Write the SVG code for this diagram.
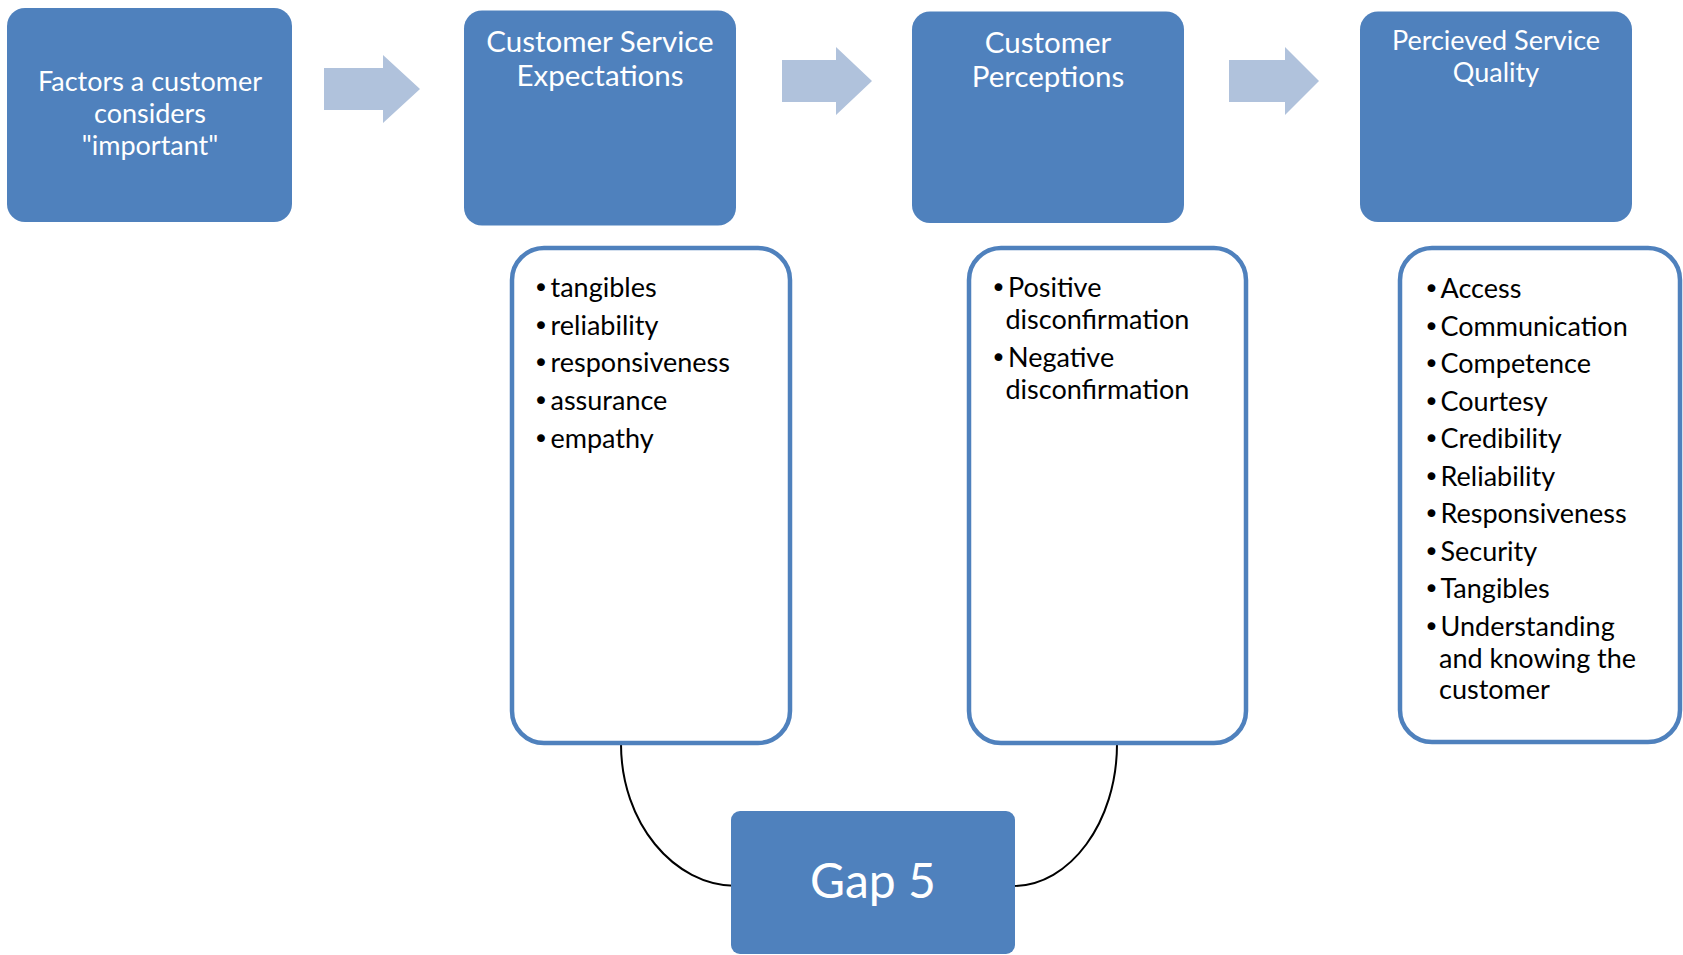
<svg xmlns="http://www.w3.org/2000/svg" width="1683" height="955" viewBox="0 0 1683 955">
  <style>
    .stage { fill: #4F81BD; }
    .flow { fill: #B0C2DC; }
    .list { fill: #FFFFFF; stroke: #4F81BD; stroke-width: 4.5; }
    .link { fill: none; stroke: #000000; stroke-width: 2; }
    .head { font-family: Lato, "Open Sans", "Liberation Sans", sans-serif; fill: #FFFFFF; text-anchor: middle; }
    .item { font-family: Lato, "Open Sans", "Liberation Sans", sans-serif; fill: #000000; font-size: 27px; }
    .dot { font-family: "DejaVu Sans", sans-serif; font-size: 27px; }
  </style>
  <rect width="1683" height="955" fill="#FFFFFF"/>

  <!-- flow arrows between stages -->
  <g id="flow-arrows">
    <polygon class="flow" points="324,68 383,68 383,55 420,89 383,123 383,110 324,110"/>
    <polygon class="flow" points="782,60 836,60 836,47 872,81 836,115 836,102 782,102"/>
    <polygon class="flow" points="1229,60 1285,60 1285,47 1319,81 1285,115 1285,102 1229,102"/>
  </g>

  <!-- connectors from the two lists into Gap 5 -->
  <g id="connectors">
    <path class="link" d="M621,744 C621,822 673,886 737,886"/>
    <path class="link" d="M1117,744 C1117,822 1070,886 1013,886"/>
  </g>

  <g id="factors">
    <rect class="stage" x="7" y="8" width="285" height="214" rx="18"/>
    <text class="head" font-size="27" x="150" y="91">Factors a customer</text>
    <text class="head" font-size="27" x="150" y="123">considers</text>
    <text class="head" font-size="27" x="150" y="155">"important"</text>
  </g>

  <g id="expectations">
    <rect class="stage" x="464" y="10.5" width="272" height="215" rx="18"/>
    <text class="head" font-size="29.5" x="600" y="52">Customer Service</text>
    <text class="head" font-size="29.5" x="600" y="86">Expectations</text>
  </g>

  <g id="perceptions">
    <rect class="stage" x="912" y="11.5" width="272" height="211.5" rx="18"/>
    <text class="head" font-size="29.5" x="1048" y="53">Customer</text>
    <text class="head" font-size="29.5" x="1048" y="87">Perceptions</text>
  </g>

  <g id="quality">
    <rect class="stage" x="1360" y="11.5" width="272" height="210.5" rx="18"/>
    <text class="head" font-size="27" x="1496" y="50">Percieved Service</text>
    <text class="head" font-size="27" x="1496" y="82">Quality</text>
  </g>

  <!-- list items: bullet glyph, label on a hanging indent -->
  <g id="expectation-dimensions">
    <rect class="list" x="512" y="248" width="278" height="495" rx="32"/>
    <text class="item" x="533" y="297"><tspan class="dot">•</tspan><tspan x="550.5">tangibles</tspan></text>
    <text class="item" x="533" y="334.5"><tspan class="dot">•</tspan><tspan x="550.5">reliability</tspan></text>
    <text class="item" x="533" y="372"><tspan class="dot">•</tspan><tspan x="550.5">responsiveness</tspan></text>
    <text class="item" x="533" y="410"><tspan class="dot">•</tspan><tspan x="550.5">assurance</tspan></text>
    <text class="item" x="533" y="447.5"><tspan class="dot">•</tspan><tspan x="550.5">empathy</tspan></text>
  </g>

  <g id="disconfirmation">
    <rect class="list" x="969" y="248" width="277" height="495" rx="32"/>
    <text class="item" x="990.5" y="297"><tspan class="dot">•</tspan><tspan x="1008">Positive</tspan></text>
    <text class="item" x="1005.5" y="329">disconfirmation</text>
    <text class="item" x="990.5" y="367"><tspan class="dot">•</tspan><tspan x="1008">Negative</tspan></text>
    <text class="item" x="1005.5" y="399">disconfirmation</text>
  </g>

  <g id="quality-dimensions">
    <rect class="list" x="1400" y="248" width="280" height="494" rx="32"/>
    <text class="item" x="1423.5" y="298"><tspan class="dot">•</tspan><tspan x="1440.5">Access</tspan></text>
    <text class="item" x="1423.5" y="335.5"><tspan class="dot">•</tspan><tspan x="1440.5">Communication</tspan></text>
    <text class="item" x="1423.5" y="373"><tspan class="dot">•</tspan><tspan x="1440.5">Competence</tspan></text>
    <text class="item" x="1423.5" y="410.5"><tspan class="dot">•</tspan><tspan x="1440.5">Courtesy</tspan></text>
    <text class="item" x="1423.5" y="448"><tspan class="dot">•</tspan><tspan x="1440.5">Credibility</tspan></text>
    <text class="item" x="1423.5" y="485.5"><tspan class="dot">•</tspan><tspan x="1440.5">Reliability</tspan></text>
    <text class="item" x="1423.5" y="523"><tspan class="dot">•</tspan><tspan x="1440.5">Responsiveness</tspan></text>
    <text class="item" x="1423.5" y="560.5"><tspan class="dot">•</tspan><tspan x="1440.5">Security</tspan></text>
    <text class="item" x="1423.5" y="598"><tspan class="dot">•</tspan><tspan x="1440.5">Tangibles</tspan></text>
    <text class="item" x="1423.5" y="635.5"><tspan class="dot">•</tspan><tspan x="1440.5">Understanding</tspan></text>
    <text class="item" x="1439" y="667.5">and knowing the</text>
    <text class="item" x="1439" y="699">customer</text>
  </g>

  <g id="gap-5">
    <rect class="stage" x="731" y="811" width="284" height="143" rx="9"/>
    <text class="head" font-size="48" x="873" y="898">Gap 5</text>
  </g>
</svg>
